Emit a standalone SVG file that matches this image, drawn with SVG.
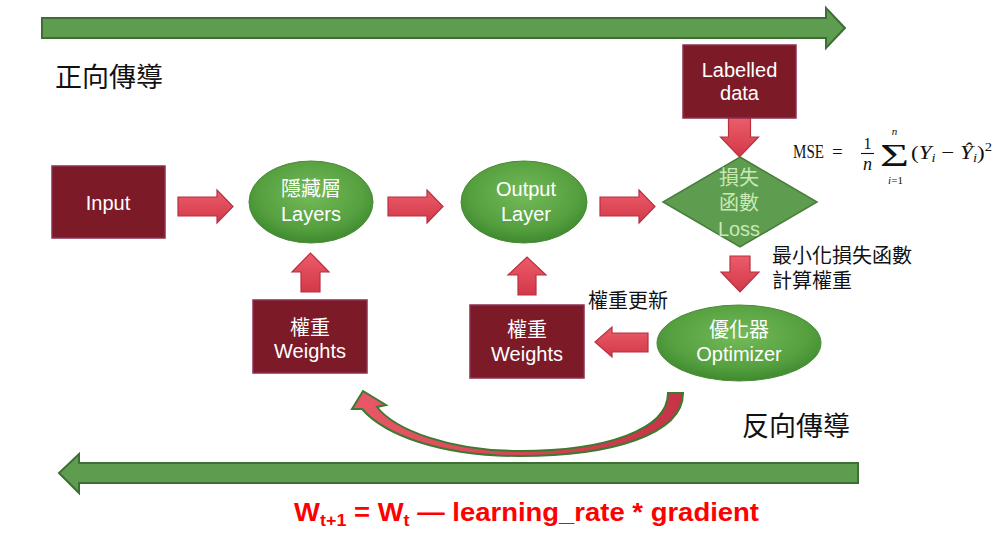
<svg xmlns="http://www.w3.org/2000/svg" width="1006" height="558" viewBox="0 0 1006 558">
<defs>
<style>
.t{font-family:"Liberation Sans","Noto Sans CJK TC",sans-serif;}
.wt{fill:#ffffff;font-size:20px;text-anchor:middle;}
.box{fill:#7d1a28;stroke:#8a3050;stroke-width:1.5;}
.ell{fill:url(#gEll);stroke:#4a8a38;stroke-width:1;}
.red{fill:url(#gRed);stroke:#b83040;stroke-width:1.2;}
.big{fill:#5e9c4f;stroke:#3e6e34;stroke-width:2;}
.lbl{fill:#111111;}
.serif{font-family:"Liberation Serif","DejaVu Serif",serif;fill:#111111;}
</style>
<radialGradient id="gEll" cx="50%" cy="40%" r="60%">
<stop offset="0" stop-color="#74ba58"/>
<stop offset="0.7" stop-color="#56a040"/>
<stop offset="1" stop-color="#3e8a2e"/>
</radialGradient>
<linearGradient id="gRed" x1="0" y1="0" x2="0" y2="1">
<stop offset="0" stop-color="#ec5c6a"/>
<stop offset="1" stop-color="#d23848"/>
</linearGradient>
<linearGradient id="gCurve" x1="0" y1="0" x2="1" y2="0">
<stop offset="0" stop-color="#e85868"/>
<stop offset="1" stop-color="#c43446"/>
</linearGradient>
</defs>
<rect width="1006" height="558" fill="#ffffff"/>

<g id="connectors">
<path class="big" d="M42,18 H826 V8 L845,28 L826,48 V38 H42 Z"/>
<path class="big" d="M858,463 H79 V454 L59,473 L79,493 V483 H858 Z"/>
<path class="red" d="M178,197 H217 V190 L233,206.5 L217,223 V216 H178 Z"/>
<path class="red" d="M388,197 H427 V190 L443,206.5 L427,223 V216 H388 Z"/>
<path class="red" d="M600,197 H639 V190 L655,206.5 L639,223 V216 H600 Z"/>
<path class="red" d="M728.5,118 H750.5 V137 H758.5 L739.5,157 L720.5,137 H728.5 Z"/>
<path class="red" d="M730,256 H750 V272 H759 L740,292 L721,272 H730 Z"/>
<path class="red" d="M648,333 H612 V327 L595,342 L612,357 V352 H648 Z"/>
<path class="red" d="M301,292 V272 H292 L310.5,253 L329,272 H320 V292 Z"/>
<path class="red" d="M518,295 V275 H508 L527,257 L546,275 H536 V295 Z"/>
<path fill="url(#gCurve)" stroke="#3c7a30" stroke-width="2" d="M668,393 L683,393 C683,435 610,456 520,456 C440,456 385,435 362,409 L352,409 L363,391 L386,405 L377,407 C395,430 450,451 520,451 C605,451 668,430 668,393 Z"/>
</g>

<g id="input">
<rect class="box" x="52" y="166" width="113" height="72"/>
<text class="t wt" x="108" y="210">Input</text>
</g>

<g id="layers">
<ellipse class="ell" cx="311" cy="202" rx="62" ry="41"/>
<text class="t wt" x="311" y="196">隱藏層</text>
<text class="t wt" x="311" y="221">Layers</text>
</g>

<g id="output-layer">
<ellipse class="ell" cx="524" cy="202" rx="63" ry="41"/>
<text class="t wt" x="526" y="196">Output</text>
<text class="t wt" x="526" y="221">Layer</text>
</g>

<g id="labelled-data">
<rect class="box" x="683" y="45" width="113" height="73"/>
<text class="t wt" x="739.5" y="77">Labelled</text>
<text class="t wt" x="739.5" y="100">data</text>
</g>

<g id="loss">
<path d="M740,157 L817,202 L740,247 L663,202 Z" fill="#5e9c4f" stroke="#477d3b" stroke-width="1.5"/>
<text class="t wt" x="739" y="185" style="fill:#c9e9b5">損失</text>
<text class="t wt" x="739" y="210" style="fill:#c9e9b5">函數</text>
<text class="t wt" x="739" y="236" style="fill:#c9e9b5">Loss</text>
</g>

<g id="optimizer">
<ellipse class="ell" cx="739" cy="343" rx="82" ry="38"/>
<text class="t wt" x="739" y="337">優化器</text>
<text class="t wt" x="739" y="361">Optimizer</text>
</g>

<g id="weights1">
<rect class="box" x="253" y="300" width="114" height="73"/>
<text class="t wt" x="310" y="335">權重</text>
<text class="t wt" x="310" y="358">Weights</text>
</g>

<g id="weights2">
<rect class="box" x="470" y="305" width="114" height="73"/>
<text class="t wt" x="527" y="337">權重</text>
<text class="t wt" x="527" y="361">Weights</text>
</g>

<g id="labels">
<text class="t lbl" x="55" y="87" font-size="27">正向傳導</text>
<text class="t lbl" x="742" y="436" font-size="27">反向傳導</text>
<text class="t lbl" x="772" y="263" font-size="20">最小化損失函數</text>
<text class="t lbl" x="772" y="288" font-size="20">計算權重</text>
<text class="t lbl" x="588" y="308" font-size="20">權重更新</text>
<text class="t" x="294" y="521" font-size="26" font-weight="bold" fill="#ff0000" textLength="465" lengthAdjust="spacingAndGlyphs">W<tspan font-size="17" dy="5">t+1</tspan><tspan dy="-5"> = W</tspan><tspan font-size="17" dy="5">t</tspan><tspan dy="-5"> — learning_rate * gradient</tspan></text>
</g>

<g id="mse">
<text class="serif" x="793" y="158" font-size="18" textLength="31" lengthAdjust="spacingAndGlyphs">MSE</text>
<text class="serif" x="832" y="158" font-size="19">=</text>
<text class="serif" x="867.5" y="149" font-size="16" text-anchor="middle">1</text>
<line x1="861" y1="153.5" x2="874" y2="153.5" stroke="#111111" stroke-width="1.1"/>
<text class="serif" x="867.5" y="170" font-size="18" font-style="italic" text-anchor="middle">n</text>
<text class="serif" x="880" y="166" font-size="32" textLength="29" lengthAdjust="spacingAndGlyphs">Σ</text>
<text class="serif" x="894.5" y="135" font-size="11" font-style="italic" text-anchor="middle">n</text>
<text class="serif" x="895.5" y="184" font-size="11" text-anchor="middle"><tspan font-style="italic">i</tspan>=1</text>
<text class="serif" x="911" y="159" font-size="19" textLength="81" lengthAdjust="spacingAndGlyphs">(<tspan font-style="italic">Y</tspan><tspan font-size="12" font-style="italic" dy="3">i</tspan><tspan dy="-3"> − </tspan><tspan font-style="italic">Ŷ</tspan><tspan font-size="12" font-style="italic" dy="3">i</tspan><tspan dy="-3">)</tspan><tspan font-size="12" dy="-8">2</tspan></text>
</g>
</svg>
